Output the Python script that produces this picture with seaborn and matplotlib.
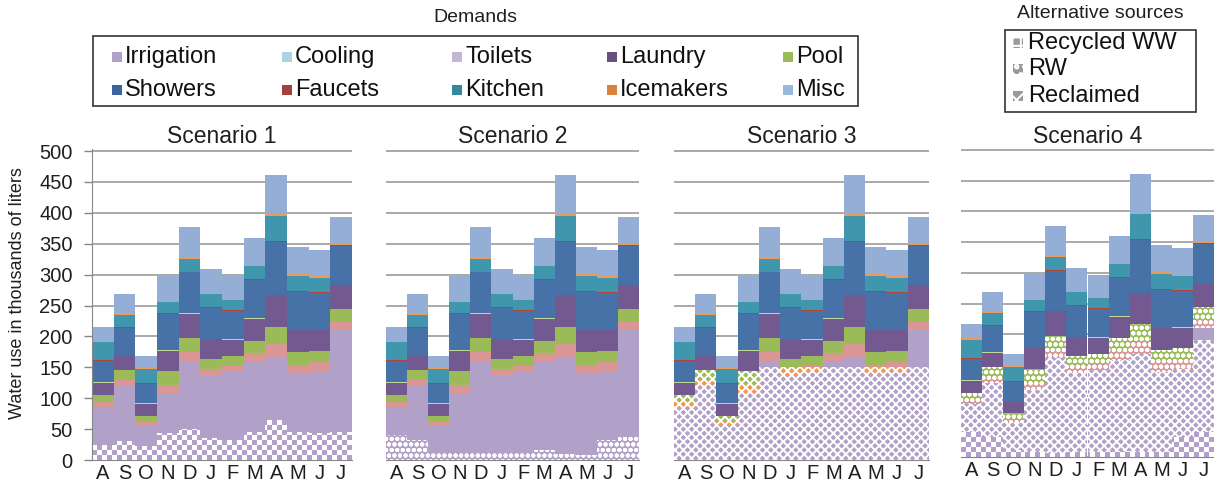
import numpy as np
import matplotlib
matplotlib.use("Agg")
import matplotlib.pyplot as plt
from matplotlib.patches import Rectangle, PathPatch
from matplotlib.path import Path
import seaborn as sns

# month axis (Aug .. Jul)
months = ["A", "S", "O", "N", "D", "J", "F", "M", "A", "M", "J", "J"]

# demand layers, bottom to top, thousands of liters
irrigation = [86, 120, 56, 109, 161, 136, 142, 158, 167, 139, 144, 210]
toilets = [8, 10, 6, 12, 13, 12, 10, 15, 20, 15, 15, 14]
pool = [11, 16, 10, 23, 23, 16, 16, 20, 29, 21, 18, 21]
laundry = [19, 24, 19, 33, 40, 31, 26, 35, 51, 35, 33, 38]
cooling = [1.5, 0.5, 0.5, 0.5, 0.5, 0.5, 1, 2, 0.5, 0.5, 1, 0.5]
showers = [34.5, 42.5, 31, 59, 66, 50, 46, 61, 86, 62, 59, 63]
faucets = [1.5, 1.5, 1.5, 1.5, 1.5, 1.5, 1.5, 1.5, 1.5, 1.5, 1.5, 1.5]
kitchen = [29.5, 20.5, 22.5, 17.5, 20.5, 21.5, 16.5, 21.5, 40.5, 24.5, 23.5, 0]
icemakers = [2, 2, 2, 2, 2, 2, 2, 2, 2, 2, 2, 2]
misc = [23, 31, 20, 42, 49, 38, 36, 44, 63, 44, 43, 44]

# alternative sources
recycled_s1 = [24, 30, 22, 43, 50, 36, 32, 46, 65, 46, 43, 46]
rw_s2 = [40, 32, 13, 11, 12, 11, 11, 16, 10, 8, 32, 38]
reclaimed_cap_s3 = 150
recycled_s4 = [41, 33, 11, 8, 6, 8, 8, 10, 8, 8, 33, 41]
reclaimed_cap_s4 = 190

layers = [irrigation, toilets, pool, laundry, cooling, showers, faucets, kitchen, icemakers, misc]
layer_colors = ["#b1a0c7", "#d99694", "#9bbb59", "#725a90", "#c3d69b", "#4672a8",
                "#b0433f", "#4097ad", "#eb9a5c", "#95aed6"]

legend_names = ["Irrigation", "Cooling", "Toilets", "Laundry", "Pool",
                "Showers", "Faucets", "Kitchen", "Icemakers", "Misc"]
legend_colors = ["#b3a2c7", "#a9d4e0", "#c3b7d6", "#65507f", "#9bbb59",
                 "#3c659b", "#a3403d", "#33889e", "#d9823b", "#9ab7dc"]

sns.set_style("white")
plt.rcParams["font.family"] = ["Liberation Sans", "DejaVu Sans"]
plt.rcParams["hatch.linewidth"] = 1.4

W, H = 1214, 498
YMAX = 503
fig = plt.figure(figsize=(W / 100, H / 100), dpi=100)


def fx(x):
    return x / W


def fy(y):
    return 1 - y / H


stack = np.array(layers, dtype=float)
tops = stack.cumsum(axis=0)
bottoms = tops - stack
pos = np.arange(len(months))
TXT = "#1f1f1f"
GRID = "#a3a3a3"

DOTS = "ooo"
DIAMOND = "xxxx"


def band(ax, lo, hi, color, pattern):
    lo = np.asarray(lo, dtype=float)
    hi = np.asarray(hi, dtype=float)
    ax.bar(pos, np.clip(hi - lo, 0, None), bottom=lo, width=1, color=color,
           hatch=pattern, edgecolor="white", linewidth=0)


def checker_band(ax, hi, color, cell=5):
    # checkerboard fill (Recycled WW): white squares clipped to the bars
    bars = ax.bar(pos, hi, width=1, color=color, linewidth=0)
    path = Path.make_compound_path(
        *[b.get_path().transformed(b.get_patch_transform()) for b in bars])
    clip = PathPatch(path, transform=ax.transData, facecolor="none", edgecolor="none")
    ax.add_patch(clip)
    nx = int(round(ax.bbox.width / cell))
    ny = int(round(ax.bbox.height / cell))
    jj, ii = np.meshgrid(np.arange(nx), np.arange(ny))
    img = np.ones((ny, nx, 4))
    img[..., 3] = ((ii + jj) % 2 == 0).astype(float)
    im = ax.imshow(img, extent=(-0.5, 11.5, 0, YMAX), origin="lower", aspect="auto",
                   interpolation="nearest", zorder=1.5)
    im.set_clip_path(clip)
    ax.set_xlim(-0.5, 11.5)
    ax.set_ylim(0, YMAX)


def make_panel(left, right, base, top500, title, first=False):
    ppu = (base - top500) / 500
    ax = fig.add_axes([fx(left), fy(base), (right - left) / W, ppu * YMAX / H])
    # stacked demands: draw cumulative totals from the top down
    for k in range(len(layers) - 1, -1, -1):
        sns.barplot(x=pos, y=tops[k], color=layer_colors[k], width=1, saturation=1,
                    errorbar=None, linewidth=0, ax=ax)
    ax.set_ylim(0, YMAX)
    ax.set_xlim(-0.5, 11.5)
    ax.set_yticks(np.arange(0, 501, 50))
    ax.yaxis.grid(True, color=GRID, linewidth=1.3)
    ax.set_axisbelow(True)
    ax.set_xticks(pos, months)
    ax.set_xticks(np.arange(-0.5, 12, 1), minor=True)
    ax.tick_params(axis="x", which="major", length=0, pad=3, labelsize=14.5, labelcolor=TXT)
    ax.tick_params(axis="x", which="minor", length=6, width=1, color="#868686", direction="out")
    ax.set_xlabel("")
    ax.set_ylabel("")
    for s in ("top", "right"):
        ax.spines[s].set_visible(False)
    ax.spines["bottom"].set_color("#868686")
    if first:
        ax.spines["left"].set_color("#868686")
        ax.tick_params(axis="y", length=6, width=1, color="#868686", pad=8,
                       labelsize=14.5, labelcolor=TXT, left=True)
    else:
        ax.spines["left"].set_visible(False)
        ax.tick_params(axis="y", length=0, labelleft=False)
    fig.text(fx((left + right) / 2), fy(136), title, ha="center", va="center",
             fontsize=16.5, color=TXT)
    return ax


ax1 = make_panel(92, 352, 460, 151, "Scenario 1", first=True)
checker_band(ax1, recycled_s1, layer_colors[0])

ax2 = make_panel(386, 639, 460, 151, "Scenario 2")
band(ax2, np.zeros(12), rw_s2, layer_colors[0], DOTS)

ax3 = make_panel(674, 929, 460, 151, "Scenario 3")
for k in range(3):
    col = "#f79646" if k == 1 else layer_colors[k]
    band(ax3, bottoms[k], np.minimum(tops[k], reclaimed_cap_s3), col, DIAMOND)

ax4 = make_panel(961, 1214, 457, 150, "Scenario 4")
checker_band(ax4, recycled_s4, layer_colors[0])
band(ax4, recycled_s4, np.minimum(tops[0], reclaimed_cap_s4), layer_colors[0], DIAMOND)
band(ax4, bottoms[1], tops[1], layer_colors[1], DOTS)
band(ax4, bottoms[2], tops[2], layer_colors[2], DOTS)

fig.text(fx(18), fy(293), "Water use in thousands of liters", rotation=90,
         ha="center", va="center", fontsize=13, color=TXT)

# demands legend
fig.text(fx(475), fy(18), "Demands", ha="center", va="center", fontsize=14, color=TXT)
fig.add_artist(Rectangle((fx(93), fy(106)), (858 - 93) / W, 70 / H, transform=fig.transFigure,
                         fill=False, edgecolor="#333333", linewidth=1.2))
col_x = [112, 282, 452, 607, 783]
row_y = [57, 90]
for i, (name, c) in enumerate(zip(legend_names, legend_colors)):
    x, y = col_x[i % 5], row_y[i // 5]
    fig.add_artist(Rectangle((fx(x), fy(y + 5)), 10 / W, 10 / H, transform=fig.transFigure,
                             facecolor=c, edgecolor="none"))
    fig.text(fx(x + 13), fy(y), name, ha="left", va="center", fontsize=17, color="#111111")

# alternative sources legend
fig.text(fx(1100), fy(14), "Alternative sources", ha="center", va="center", fontsize=14, color=TXT)
fig.add_artist(Rectangle((fx(1005), fy(112)), (1196 - 1005) / W, 82 / H, transform=fig.transFigure,
                         fill=False, edgecolor="#333333", linewidth=1.2))
alt_names = ["Recycled WW", "RW", "Reclaimed"]
alt_hatches = ["++", "oo", "xx"]
for name, h, y in zip(alt_names, alt_hatches, [43, 69, 96]):
    fig.add_artist(Rectangle((fx(1013), fy(y + 5)), 10 / W, 10 / H, transform=fig.transFigure,
                             facecolor="#9a9a9a", edgecolor="white", linewidth=0, hatch=h))
    fig.text(fx(1028), fy(y), name, ha="left", va="center", fontsize=17, color="#111111")

fig.savefig("out.png", dpi=100)
